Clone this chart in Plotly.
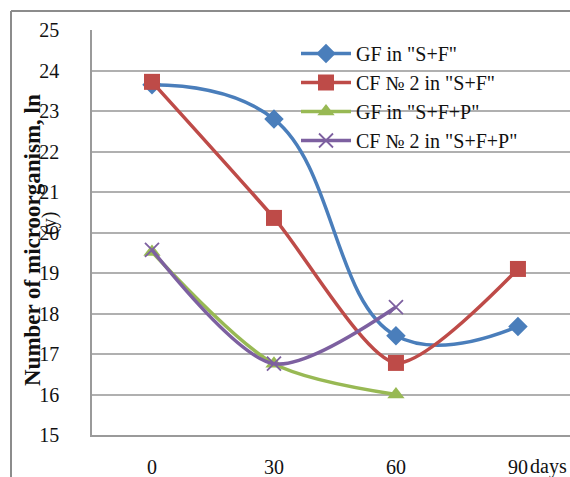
import plotly.graph_objects as go

days = [0, 30, 60, 90]
gf_sf = [23.65, 22.8, 17.45, 17.68]
cf_sf = [23.72, 20.36, 16.78, 19.1]
gf_sfp = [19.52, 16.76, 16.0]
cf_sfp = [19.57, 16.76, 18.16]
y_ticks = list(range(15, 26))

W, H = 570, 477
L, T, B = 92, 30, 42
pw = W - L
ph = H - T - B

def px(x):
    return (x - L) / pw

def py(y):
    return (H - B - y) / ph

serif = "Liberation Serif, Times New Roman, serif"

fig = go.Figure()
fig.add_trace(go.Scatter(x=days, y=gf_sf, name='GF in "S+F"', mode="lines+markers",
                         line=dict(color="#4a7ebb", width=3.5, shape="spline", smoothing=1.2),
                         marker=dict(symbol="diamond", size=15, color="#4a7ebb")))
fig.add_trace(go.Scatter(x=days, y=cf_sf, name='CF № 2 in "S+F"', mode="lines+markers",
                         line=dict(color="#be4b48", width=3.5, shape="spline", smoothing=0.7),
                         marker=dict(symbol="square", size=16, color="#be4b48")))
fig.add_trace(go.Scatter(x=days[:3], y=gf_sfp, name='GF in "S+F+P"', mode="lines+markers",
                         line=dict(color="#98b954", width=3.5, shape="spline", smoothing=0.8),
                         marker=dict(symbol="triangle-up", size=15, color="#98b954")))
fig.add_trace(go.Scatter(x=days[:3], y=cf_sfp, name='CF № 2 in "S+F+P"', mode="lines+markers",
                         line=dict(color="#7d60a0", width=3.5, shape="spline", smoothing=0.8),
                         marker=dict(symbol="x-thin-open", size=14, color="#7d60a0",
                                     line=dict(width=1.8, color="#7d60a0"))))

fig.update_xaxes(range=[-14.75, 102.8], tickvals=days, ticktext=[str(d) for d in days],
                 showgrid=False, zeroline=False, showline=True, linecolor="#9a9a9a", linewidth=1.5,
                 automargin=False,
                 ticks="", ticklabelstandoff=13, tickfont=dict(family=serif, size=20, color="#111"))
fig.update_yaxes(range=[15, 25], tickvals=y_ticks, showgrid=True, gridcolor="#b0b0b0", gridwidth=1.5,
                 zeroline=False, showline=True, linecolor="#9a9a9a", linewidth=1.5,
                 automargin=False,
                 ticks="", ticklabelstandoff=27, tickfont=dict(family=serif, size=20, color="#111"))

fig.update_layout(
    width=W, height=H,
    margin=dict(l=L, r=0, t=T, b=B, autoexpand=False),
    paper_bgcolor="white", plot_bgcolor="white",
    legend=dict(x=px(296), y=py(34), xanchor="left", yanchor="top",
                bgcolor="rgba(0,0,0,0)", font=dict(family=serif, size=20, color="#111"),
                tracegroupgap=0, itemwidth=50),
    shapes=[
        dict(type="line", xref="paper", yref="paper", x0=px(11), x1=px(575), y0=py(11), y1=py(11),
             line=dict(color="#8c8c8c", width=2)),
        dict(type="line", xref="paper", yref="paper", x0=px(11), x1=px(11), y0=py(11), y1=py(480),
             line=dict(color="#8c8c8c", width=2)),
    ],
    annotations=[
        dict(text="<b>Number of microorganism, ln</b>", xref="paper", yref="paper",
             x=px(32), y=py(240), xanchor="center", yanchor="middle", textangle=-90, showarrow=False,
             font=dict(family=serif, size=23, color="#111")),
        dict(text="(y)", xref="paper", yref="paper",
             x=px(50), y=py(224), xanchor="center", yanchor="middle", textangle=-90, showarrow=False,
             font=dict(family=serif, size=20, color="#111")),
        dict(text="days", xref="paper", yref="paper",
             x=px(569), y=py(466), xanchor="right", yanchor="middle", showarrow=False,
             font=dict(family=serif, size=20, color="#111")),
    ],
)

fig.write_html("out.html", config={"displayModeBar": False},
               post_script="document.body.style.margin='0';document.body.style.overflow='hidden';")
